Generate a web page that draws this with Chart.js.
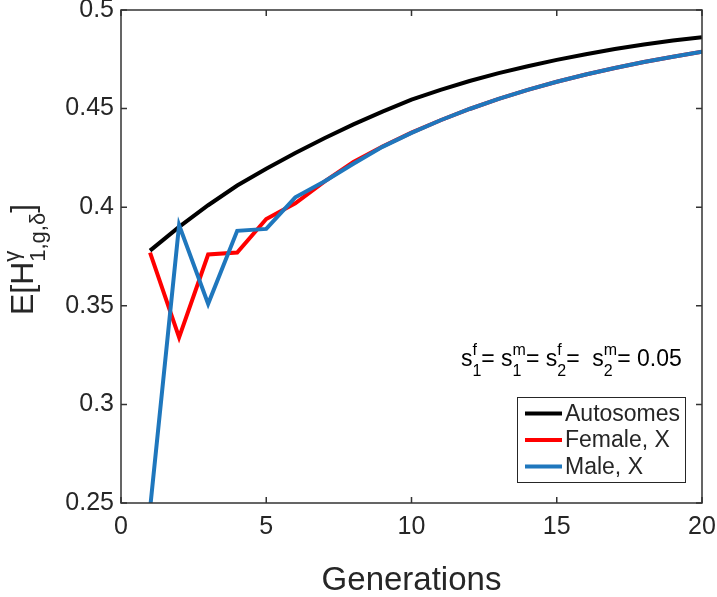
<!DOCTYPE html>
<html><head><meta charset="utf-8">
<script src="https://cdn.jsdelivr.net/npm/chart.js@4.4.1/dist/chart.umd.min.js"></script>
<style>html,body{margin:0;padding:0;background:#fff;} canvas{display:block;}</style>
</head><body>
<canvas id="c" width="717" height="597"></canvas>
<script>
// ---- data ----
const generations = [1,2,3,4,5,6,7,8,9,10,11,12,13,14,15,16,17,18,19,20];
const autosomes = [0.378,0.390,0.401,0.411,0.4195,0.4275,0.435,0.442,0.4485,0.4545,0.4595,0.464,0.468,0.4715,0.4747,0.4776,0.4802,0.4825,0.4845,0.4862];
const femaleX   = [0.377,0.334,0.376,0.377,0.394,0.402,0.413,0.423,0.4308,0.4378,0.4441,0.4498,0.4549,0.4595,0.4636,0.4673,0.4706,0.4736,0.4763,0.4788];
const maleX     = [0.247,0.391,0.351,0.388,0.389,0.405,0.413,0.422,0.4306,0.4377,0.4441,0.4498,0.4549,0.4595,0.4636,0.4673,0.4706,0.4736,0.4763,0.4788];
const seriesNames = ['Autosomes','Female, X','Male, X'];
const seriesColors = ['#000000','#ff0000','#1f77bd'];
const xTicks = [0,5,10,15,20];
const yTicks = [0.25,0.3,0.35,0.4,0.45,0.5];
const yTickLabels = ['0.25','0.3','0.35','0.4','0.45','0.5'];
const xTitle = 'Generations';

const FONT = '"Liberation Sans", Arial, Helvetica, sans-serif';
const TXT = '#262626';

function pts(arr){ return generations.map((g,i)=>({x:g,y:arr[i]})); }

// draw a run of tokens: {t:'text'} or {sup:'..', sub:'..'}
function drawRich(ctx, tokens, x, y, size, ssize, supShift, subShift, measureOnly){
  let cx = x;
  for (const tk of tokens){
    if (tk.t !== undefined){
      ctx.font = size + 'px ' + FONT;
      if(!measureOnly) ctx.fillText(tk.t, cx, y);
      cx += ctx.measureText(tk.t).width;
    } else {
      ctx.font = ssize + 'px ' + FONT;
      const w1 = tk.sup ? ctx.measureText(tk.sup).width : 0;
      const w2 = tk.sub ? ctx.measureText(tk.sub).width : 0;
      if(!measureOnly){
        if (tk.sup) ctx.fillText(tk.sup, cx, y - supShift);
        if (tk.sub) ctx.fillText(tk.sub, cx, y + subShift);
      }
      cx += Math.max(w1,w2);
    }
  }
  return cx - x;
}

const decor = {
  id: 'decor',
  afterDatasetsDraw(chart){
    const {ctx, chartArea:a, scales:{x,y}} = chart;
    ctx.save();
    // box
    ctx.strokeStyle = '#333333';
    ctx.lineWidth = 1.5;
    ctx.strokeRect(a.left, a.top, a.right-a.left, a.bottom-a.top);
    // inward ticks on all sides
    const tl = 6;
    ctx.beginPath();
    x.ticks.forEach(t=>{
      const px = x.getPixelForValue(t.value);
      ctx.moveTo(px, a.bottom); ctx.lineTo(px, a.bottom - tl);
      ctx.moveTo(px, a.top); ctx.lineTo(px, a.top + tl);
    });
    y.ticks.forEach(t=>{
      const py = y.getPixelForValue(t.value);
      ctx.moveTo(a.left, py); ctx.lineTo(a.left + tl, py);
      ctx.moveTo(a.right, py); ctx.lineTo(a.right - tl, py);
    });
    ctx.stroke();

    // annotation  s_1^f= s_1^m= s_2^f=  s_2^m= 0.05
    ctx.fillStyle = '#000';
    ctx.textBaseline = 'alphabetic';
    ctx.textAlign = 'left';
    const ann = [
      {t:'s'},{sup:'f',sub:'1'},{t:'= s'},{sup:'m',sub:'1'},{t:'= s'},{sup:'f',sub:'2'},
      {t:'=  s'},{sup:'m',sub:'2'},{t:'= 0.05'}
    ];
    drawRich(ctx, ann, x.getPixelForValue(11.7), y.getPixelForValue(0.3195), 23, 16, 11, 10);

    // legend
    const lw = 168, lh = 85;
    const lx = a.right - 17 - lw, ly = a.bottom - 21 - lh;
    ctx.fillStyle = '#fff';
    ctx.fillRect(lx, ly, lw, lh);
    ctx.strokeStyle = '#262626';
    ctx.lineWidth = 1;
    ctx.strokeRect(lx+0.5, ly+0.5, lw, lh);
    ctx.font = '23px ' + FONT;
    ctx.textBaseline = 'middle';
    chart.data.datasets.forEach((ds,i)=>{
      const cy = ly + 16.5 + i*26.5;
      ctx.strokeStyle = ds.borderColor;
      ctx.lineWidth = 4;
      ctx.beginPath(); ctx.moveTo(lx+8, cy); ctx.lineTo(lx+45, cy); ctx.stroke();
      ctx.fillStyle = TXT;
      ctx.fillText(ds.label, lx+48, cy+1);
    });

    // y-axis title  E[H^γ_{1,g,δ}]
    const ytok = [{t:'E[H'},{sup:'γ',sub:'1,g,δ'},{t:']'}];
    ctx.fillStyle = TXT;
    ctx.textBaseline = 'alphabetic';
    const W = drawRich(ctx, ytok, 0, 0, 32, 22, 14, 12, true);
    ctx.translate(33, (a.top + a.bottom)/2 + 3);
    ctx.rotate(-Math.PI/2);
    drawRich(ctx, ytok, -W/2, 0, 32, 22, 14, 12, false);
    ctx.restore();
  }
};

new Chart(document.getElementById('c'), {
  type: 'line',
  data: {
    datasets: [
      {label: seriesNames[0], data: pts(autosomes), borderColor: seriesColors[0], order: 3},
      {label: seriesNames[1], data: pts(femaleX), borderColor: seriesColors[1], order: 2},
      {label: seriesNames[2], data: pts(maleX), borderColor: seriesColors[2], order: 1}
    ]
  },
  options: {
    responsive: false,
    animation: false,
    devicePixelRatio: 1,
    layout: {padding: {left: 0, right: 15, top: 10, bottom: 0}},
    elements: {
      line: {borderWidth: 4, tension: 0, fill: false, borderJoinStyle: 'miter', borderCapStyle: 'butt'},
      point: {radius: 0, hoverRadius: 0}
    },
    datasets: {line: {clip: 0}},
    plugins: {legend: {display: false}, tooltip: {enabled: false}},
    scales: {
      x: {
        type: 'linear', min: 0, max: 20,
        afterBuildTicks: s => { s.ticks = xTicks.map(v=>({value:v})); },
        afterFit: s => { s.height = 94; s.paddingLeft = 0; s.paddingRight = 0; },
        grid: {display: false, drawTicks: false},
        border: {display: false},
        ticks: {color: TXT, font: {family: FONT, size: 25}, padding: 9, maxRotation: 0,
                callback: v => String(v)},
        title: {display: true, text: xTitle, color: TXT, font: {family: FONT, size: 33, lineHeight: 1.0}, padding: {top: 0, bottom: 0}}
      },
      y: {
        type: 'linear', min: 0.25, max: 0.5,
        afterBuildTicks: s => { s.ticks = yTicks.map(v=>({value:v})); },
        afterFit: s => { s.width = 121; s.paddingTop = 0; s.paddingBottom = 0; },
        grid: {display: false, drawTicks: false},
        border: {display: false},
        ticks: {color: TXT, font: {family: FONT, size: 25, lineHeight: 0.8}, padding: 7,
                callback: v => { const i = yTicks.indexOf(v); return i >= 0 ? yTickLabels[i] : ''; }}
      }
    }
  },
  plugins: [decor]
});
</script>
</body></html>
